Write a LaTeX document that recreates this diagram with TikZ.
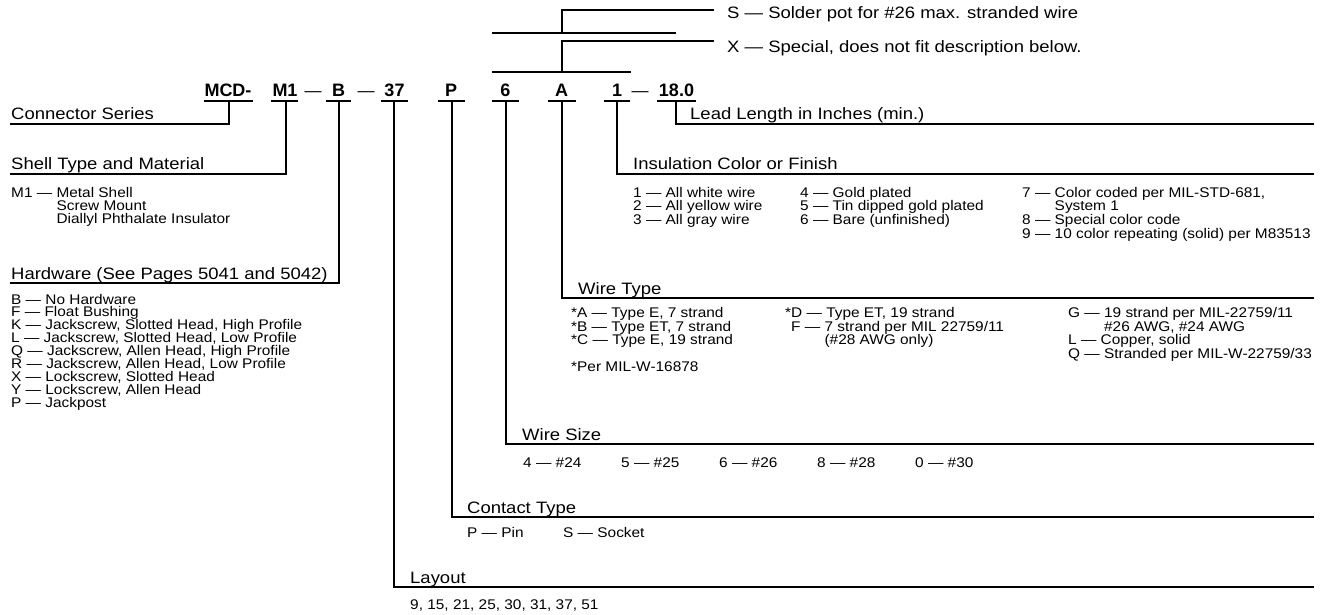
\documentclass[tikz,border=0pt]{standalone}
\usepackage{fontspec}
\setmainfont{Liberation Sans}
\newfontfamily\hfont[FakeStretch=1.12]{Liberation Sans}
\newfontfamily\sfont[FakeStretch=1.1]{Liberation Sans}
\begin{document}
\begin{tikzpicture}[x=1pt,y=-1pt,
  head/.style={anchor=base west, inner sep=0pt, font=\hfont\fontsize{16.5}{18}\selectfont},
  item/.style={anchor=base west, inner sep=0pt, font=\sfont\fontsize{14}{15}\selectfont},
  code/.style={anchor=base, inner sep=0pt, font=\bfseries\fontsize{18}{20}\selectfont},
  dashtxt/.style={anchor=base, inner sep=0pt, font=\fontsize{17}{18}\selectfont},
  ln/.style={line width=1.2pt, line cap=rect}]
\useasboundingbox (0,0) rectangle (1326,615);
\fill[white] (0,0) rectangle (1326,615);

% ---- code row
\node[code] (mcd) at (228,97) {MCD-};
\node[code] (m1) at (285,97) {M1};
\node[dashtxt] (d1) at (313,97) {—};
\node[code] (bb) at (338.5,97) {B};
\node[dashtxt] (d2) at (366,97) {—};
\node[code] (l37) at (394.5,97) {37};
\node[code] (pp) at (451,97) {P};
\node[code] (six) at (505.5,97) {6};
\node[code] (aa) at (561.5,97) {A};
\node[code] (one) at (617,97) {1};
\node[dashtxt] (d3) at (640,97) {—};
\node[code] (len) at (676.5,97) {18.0};

% underlines
\draw[ln] (205,101) -- (252,101);
\draw[ln] (272,101) -- (297,101);
\draw[ln] (327,101) -- (350,101);
\draw[ln] (382,101) -- (407,101);
\draw[ln] (439,101) -- (464,101);
\draw[ln] (493,101) -- (518,101);
\draw[ln] (549,101) -- (575,101);
\draw[ln] (605,101) -- (629,101);
\draw[ln] (658,101) -- (695,101);

% junction coordinates
\coordinate (uMCD) at (229,101);
\coordinate (uM1) at (286,101);
\coordinate (uB) at (339,101);
\coordinate (u37) at (394,101);
\coordinate (uP) at (452,101);
\coordinate (u6) at (506,101);
\coordinate (uA) at (562,101);
\coordinate (u1) at (617,101);
\coordinate (uL) at (676,101);

% ---- top brackets
\coordinate (tS) at (562,33);
\coordinate (tX) at (562,72);
\draw[ln] (493,33) -- (675,33);
\draw[ln] (493,72) -- (630,72);
\node[head] (sopt) at (727,19) {S — Solder pot for \#26 max. stranded wire};
\node[head] (xopt) at (727,53) {X — Special, does not fit description below.};
\draw[ln] (tS) |- (713,10);
\draw[ln] (tX) |- (713,41);

% ---- left headings
\node[head] (hcs) at (11,120) {Connector Series};
\draw[ln] (uMCD) |- (11,124);
\node[head] (hst) at (11,170) {Shell Type and Material};
\draw[ln] (uM1) |- (11,174);
\node[item] (m1a) at (11,197.5) {M1 — Metal Shell};
\node[item] (m1b) at (11,210.5) {\phantom{M1 — }Screw Mount};
\node[item] (m1c) at (11,223.5) {\phantom{M1 — }Diallyl Phthalate Insulator};

\node[head] (hhw) at (11,279) {Hardware (See Pages 5041 and 5042)};
\draw[ln] (uB) |- (11,283);
\foreach \t [count=\i from 0] in {B — No Hardware, F — Float Bushing,
  {K — Jackscrew, Slotted Head, High Profile}, {L — Jackscrew, Slotted Head, Low Profile},
  {Q — Jackscrew, Allen Head, High Profile}, {R — Jackscrew, Allen Head, Low Profile},
  {X — Lockscrew, Slotted Head}, {Y — Lockscrew, Allen Head}, P — Jackpost}
  \node[item] (hw\i) at (11,304+12.9*\i) {\t};

% ---- right headings
\node[head] (hll) at (690,120) {Lead Length in Inches (min.)};
\draw[ln] (uL) |- (1313,124);

\node[head] (hic) at (633,170) {Insulation Color or Finish};
\draw[ln] (u1) |- (1313,174);
\node[item] (ic1) at (633,197.5) {1 — All white wire};
\node[item] (ic2) at (633,211) {2 — All yellow wire};
\node[item] (ic3) at (633,224.5) {3 — All gray wire};
\node[item] (ic4) at (800,197.5) {4 — Gold plated};
\node[item] (ic5) at (800,211) {5 — Tin dipped gold plated};
\node[item] (ic6) at (800,224.5) {6 — Bare (unfinished)};
\node[item] (ic7) at (1022,197.5) {7 — Color coded per MIL-STD-681,};
\node[item] (ic7b) at (1022,211) {\phantom{7 — }System 1};
\node[item] (ic8) at (1022,224.5) {8 — Special color code};
\node[item] (ic9) at (1022,238) {9 — 10 color repeating (solid) per M83513};

\node[head] (hwt) at (578,294) {Wire Type};
\draw[ln] (uA) |- (1313,298);
\node[item] (wa) at (571,317.5) {*A — Type E, 7 strand};
\node[item] (wb) at (571,331) {*B — Type ET, 7 strand};
\node[item] (wc) at (571,344.5) {*C — Type E, 19 strand};
\node[item] (wp) at (571,371.5) {*Per MIL-W-16878};
\node[item] (wd) at (785,317.5) {*D — Type ET, 19 strand};
\node[item] (wf) at (791,331) {F — 7 strand per MIL 22759/11};
\node[item] (wf2) at (791,344.5) {\phantom{F — }(\#28 AWG only)};
\node[item] (wg) at (1068,317.5) {G — 19 strand per MIL-22759/11};
\node[item] (wg2) at (1068,331) {\phantom{G — }\#26 AWG, \#24 AWG};
\node[item] (wl) at (1068,344.5) {L — Copper, solid};
\node[item] (wq) at (1068,358) {Q — Stranded per MIL-W-22759/33};

\node[head] (hws) at (522,440) {Wire Size};
\draw[ln] (u6) |- (1313,444);
\node[item] (s4) at (523,467.5) {4 — \#24};
\node[item] (s5) at (621,467.5) {5 — \#25};
\node[item] (s6) at (719,467.5) {6 — \#26};
\node[item] (s8) at (817,467.5) {8 — \#28};
\node[item] (s0) at (915,467.5) {0 — \#30};

\node[head] (hct) at (467,513) {Contact Type};
\draw[ln] (uP) |- (1313,517);
\node[item] (cp) at (467,537.5) {P — Pin};
\node[item] (cs) at (563,537.5) {S — Socket};

\node[head] (hly) at (410,583) {Layout};
\draw[ln] (u37) |- (1313,587);
\node[item] (lyi) at (410,609.5) {9, 15, 21, 25, 30, 31, 37, 51};
\end{tikzpicture}
\end{document}
